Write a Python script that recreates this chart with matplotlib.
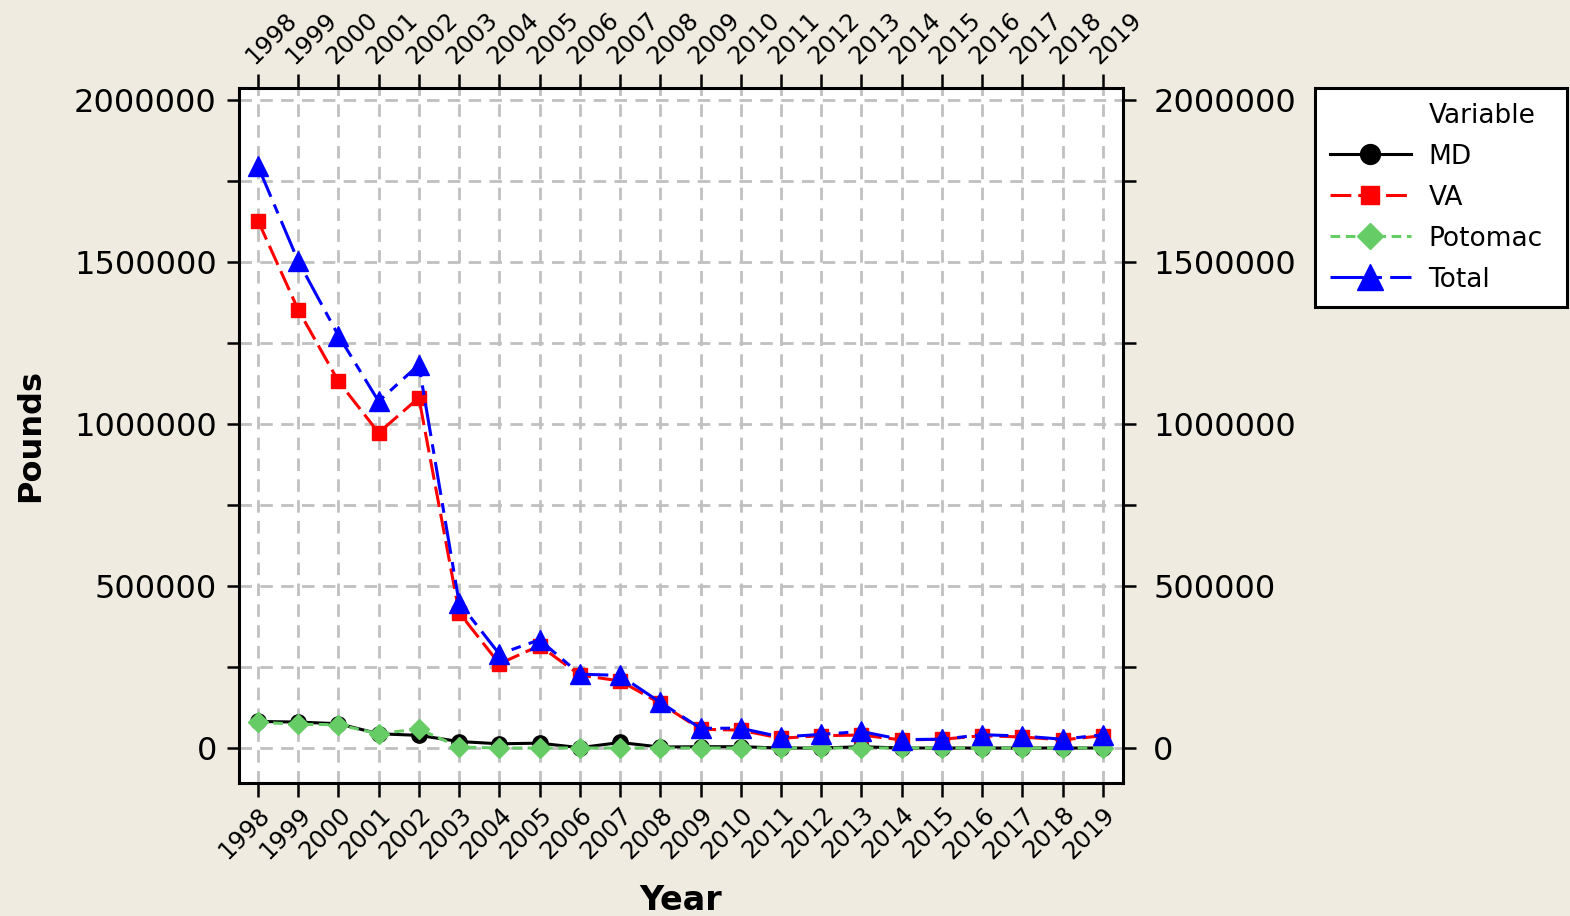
import matplotlib
matplotlib.use("Agg")
from matplotlib import pyplot as plt
from matplotlib.lines import Line2D
from matplotlib.ticker import MultipleLocator, FuncFormatter

years = list(range(1998, 2020))
md = [82000, 80000, 75000, 44000, 39000, 20000, 13000, 15000, 1000, 17000, 3000, 4000,
      4000, 0, 0, 4000, 0, 0, 0, 0, 0, 0]
va = [1628000, 1353000, 1132000, 973000, 1081000, 418000, 260000, 316000, 225000, 207000,
      138000, 58000, 55000, 30000, 38000, 40000, 25000, 27000, 38000, 34000, 25000, 38000]
potomac = [80000, 73000, 72000, 44000, 59000, 3000, 0, 0, 0, 0, 0, 0,
           0, 0, 0, 0, 0, 0, 0, 0, 0, 0]
total = [1796000, 1503000, 1273000, 1070000, 1183000, 449000, 290000, 334000, 228000, 224000,
         141000, 61000, 61000, 34000, 42000, 51000, 26000, 27000, 41000, 37000, 27000, 41000]

bg = "#EFEBE1"
plt.rcParams["lines.scale_dashes"] = False
plt.rcParams["font.family"] = "DejaVu Sans"

fig = plt.figure(figsize=(15.7, 9.16), dpi=100, facecolor=bg)
ax = fig.add_axes([239 / 1570, 1 - 783 / 916, (1123 - 239) / 1570, (783 - 88) / 916])

ax.plot(years, md, color="black", lw=2.2, marker="o", ms=11, label="MD", zorder=3)
ax.plot(years, va, color="#FF0000", lw=2.2, ls=(0, (15, 5)), marker="s", ms=10,
        label="VA", zorder=4)
ax.plot(years, potomac, color="#66CC66", lw=2.2, ls=(0, (7, 4)), marker="D", ms=10,
        label="Potomac", zorder=5)
ax.plot(years, total, color="#0000FF", lw=2.2, ls=(0, (24, 6, 7, 6)), marker="^", ms=14,
        label="Total", zorder=6)

ax.set_xlim(1997.53, 2019.5)
ax.set_ylim(-108000, 2037000)
ax.set_xticks(years)
ax.yaxis.set_major_locator(MultipleLocator(500000))
ax.yaxis.set_minor_locator(MultipleLocator(250000))
ax.yaxis.set_major_formatter(FuncFormatter(lambda v, p: "%d" % v))

ax.grid(True, which="both", color="#C0C0C0", lw=2.0, ls=(0, (9, 6)), zorder=1)
ax.set_axisbelow(True)
for s in ax.spines.values():
    s.set_linewidth(2.2)

ax.tick_params(axis="y", which="both", direction="out", length=9, width=1.8,
               left=True, right=True, labelleft=True, labelright=True, labelsize=23)
ax.tick_params(axis="x", direction="out", length=10, width=1.8, top=True, bottom=True,
               labeltop=True, labelbottom=True, labelsize=17.5, pad=4)
for t in ax.yaxis.get_major_ticks():
    t.set_pad(7)
    t.label2.set_x(1.0 + 8 / 884)
for t in ax.xaxis.get_major_ticks():
    t.label1.set_rotation(45)
    t.label1.set_ha("right")
    t.label1.set_va("top")
    t.label1.set_rotation_mode("anchor")
    t.label2.set_rotation(45)
    t.label2.set_ha("left")
    t.label2.set_va("bottom")
    t.label2.set_rotation_mode("anchor")

ax.set_xlabel("Year", fontsize=24, fontweight="bold", labelpad=15)
ax.set_ylabel("Pounds", fontsize=23, fontweight="bold", labelpad=20)

handles, labels = ax.get_legend_handles_labels()
blank = Line2D([], [], ls="none")
leg = ax.legend([blank] + handles, ["Variable"] + labels, loc="upper left",
                bbox_to_anchor=(1315 / 1570, 1 - 88 / 916, 252 / 1570, 0.0),
                bbox_transform=fig.transFigure, mode="expand",
                borderaxespad=0, fontsize=19, handlelength=3.1, handletextpad=0.65,
                borderpad=0.55, labelspacing=0.57, markerscale=1.3, fancybox=False,
                framealpha=1, edgecolor="black")
leg.get_frame().set_linewidth(2.2)

fig.savefig("out.png", dpi=100, facecolor=bg)
